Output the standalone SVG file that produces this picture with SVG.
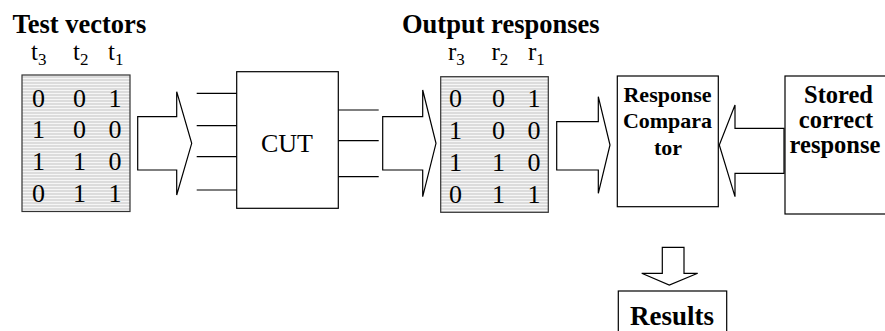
<svg xmlns="http://www.w3.org/2000/svg" width="885" height="331" viewBox="0 0 885 331">
<defs>
<pattern id="stripes" patternUnits="userSpaceOnUse" width="6" height="3">
<rect width="6" height="3" fill="#dcdcdc"/>
<rect width="6" height="1" fill="#f6f6f6"/>
</pattern>
</defs>
<style>
text{font-family:'Liberation Serif','Times New Roman','DejaVu Serif',serif;fill:#000}
.b{font-weight:bold}
.box{fill:#fff;stroke:#000;stroke-width:1.2}
.tab{fill:url(#stripes);stroke:#333;stroke-width:1.2}
.arr{fill:#fff;stroke:#000;stroke-width:1.2;stroke-linejoin:miter}
.wire{stroke:#000;stroke-width:1.2;fill:none}
.d{font-size:26px}
.l{font-size:25px}
.s{font-size:17px}
</style>
<rect width="885" height="331" fill="#fff"/>

<g id="test-vectors">
<text class="b" x="12.5" y="33" font-size="26.5">Test vectors</text>
<text class="l" x="31" y="60">t<tspan class="s" dy="4.5">3</tspan></text>
<text class="l" x="73" y="60">t<tspan class="s" dy="4.5">2</tspan></text>
<text class="l" x="108" y="60">t<tspan class="s" dy="4.5">1</tspan></text>
<rect class="tab" x="22" y="75" width="108" height="136.5"/>
<g class="d" text-anchor="middle">
<text x="38.5" y="106.5">0</text><text x="79.5" y="106.5">0</text><text x="115" y="106.5">1</text>
<text x="38.5" y="138.3">1</text><text x="79.5" y="138.3">0</text><text x="115" y="138.3">0</text>
<text x="38.5" y="170">1</text><text x="79.5" y="170">1</text><text x="115" y="170">0</text>
<text x="38.5" y="201.7">0</text><text x="79.5" y="201.7">1</text><text x="115" y="201.7">1</text>
</g>
</g>

<g id="cut">
<rect class="box" x="236.7" y="71.7" width="101.6" height="136.6"/>
<text class="d" x="287" y="151.7" text-anchor="middle">CUT</text>
</g>

<g id="output-responses">
<text class="b" x="402" y="33" font-size="26.5">Output responses</text>
<text class="l" x="448" y="60">r<tspan class="s" dy="4.5">3</tspan></text>
<text class="l" x="491.5" y="60">r<tspan class="s" dy="4.5">2</tspan></text>
<text class="l" x="528" y="60">r<tspan class="s" dy="4.5">1</tspan></text>
<rect class="tab" x="440.7" y="76.7" width="107.6" height="135.6"/>
<g class="d" text-anchor="middle">
<text x="455.5" y="107.3">0</text><text x="498.5" y="107.3">0</text><text x="534" y="107.3">1</text>
<text x="455.5" y="139.3">1</text><text x="498.5" y="139.3">0</text><text x="534" y="139.3">0</text>
<text x="455.5" y="171">1</text><text x="498.5" y="171">1</text><text x="534" y="171">0</text>
<text x="455.5" y="203.3">0</text><text x="498.5" y="203.3">1</text><text x="534" y="203.3">1</text>
</g>
</g>

<g id="response-comparator">
<rect class="box" x="617.3" y="76" width="101" height="130.7"/>
<g class="b" font-size="22" text-anchor="middle">
<text x="667.5" y="101.7">Response</text>
<text x="667.5" y="128.3">Compara</text>
<text x="668" y="155">tor</text>
</g>
</g>

<g id="stored-correct-response">
<rect class="box" x="785" y="76" width="110" height="138"/>
<g class="b" font-size="24.5" text-anchor="middle">
<text x="838.5" y="103.3">Stored</text>
<text x="836" y="128.3">correct</text>
<text x="835" y="153.3">response</text>
</g>
</g>

<g id="results">
<rect class="box" x="618.3" y="291" width="108.4" height="50"/>
<text class="b" x="672" y="325" font-size="27" text-anchor="middle">Results</text>
</g>

<g id="connectors">
<polygon class="arr" points="137.7,116.7 176.7,116.7 176.7,91.7 191.7,143.3 176.7,195 176.7,170 137.7,170"/>
<line class="wire" x1="196.7" y1="93.3" x2="236.7" y2="93.3"/>
<line class="wire" x1="196.7" y1="125.7" x2="236.7" y2="125.7"/>
<line class="wire" x1="196.7" y1="156.7" x2="236.7" y2="156.7"/>
<line class="wire" x1="196.7" y1="190" x2="236.7" y2="190"/>
<line class="wire" x1="338.3" y1="110" x2="378.7" y2="110"/>
<line class="wire" x1="338.3" y1="140.7" x2="378.7" y2="140.7"/>
<line class="wire" x1="338.3" y1="176.7" x2="378.7" y2="176.7"/>
<polygon class="arr" points="382.7,116.7 422.7,116.7 422.7,90 436,143.3 422.7,196.7 422.7,170 382.7,170"/>
<polygon class="arr" points="556.7,121.7 598.3,121.7 598.3,96.7 610,145 598.3,193.3 598.3,170 556.7,170"/>
<polygon class="arr" points="784,128.3 735,128.3 735,105 719.3,145 735,196.7 735,173.3 784,173.3"/>
<polygon class="arr" points="662.3,247.3 684,247.3 684,273.3 697.7,273.3 669.3,285 641.7,273.3 662.3,273.3"/>
</g>
</svg>
